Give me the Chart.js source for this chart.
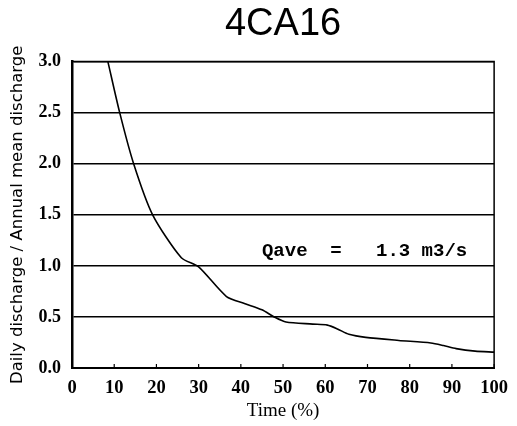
<!DOCTYPE html>
<html>
<head>
<meta charset="utf-8">
<script src="https://cdn.jsdelivr.net/npm/chart.js@4/dist/chart.umd.min.js"></script>
<style>
  html, body { margin: 0; padding: 0; background: #fff; }
  #wrap { width: 517px; height: 426px; }
</style>
</head>
<body>
<div id="wrap"><canvas id="c" width="517" height="426"></canvas></div>
<script>
// ---- data ----
const chartTitle = "4CA16";
const xAxisTitle = "Time (%)";
const yAxisTitle = "Daily discharge / Annual mean discharge";
const annotationText = "Qave  =   1.3 m3/s";
const annotationAt = [45, 1.14];            // [time %, ratio] where the note sits
const timePct = [8.5, 11.3, 14.6, 19.1, 25.9, 30.0, 36.6, 41.0, 45.0, 47.9, 50.7, 57.0, 60.5, 63.0, 65.6, 69.6, 77.4, 85.0, 88.0, 91.0, 95.5, 100];
const ratio   = [3.0, 2.5,  2.0,  1.5,  1.08, 0.99, 0.70, 0.63, 0.57, 0.50, 0.45, 0.43, 0.42, 0.38, 0.33, 0.30, 0.27, 0.245, 0.22, 0.19, 0.165, 0.155];
const xTicks = [0, 10, 20, 30, 40, 50, 60, 70, 80, 90, 100];
const yTicks = [0.0, 0.5, 1.0, 1.5, 2.0, 2.5, 3.0];

const points = timePct.map((t, i) => ({ x: t, y: ratio[i] }));

const frameAndNote = {
  id: 'frameAndNote',
  afterDatasetsDraw(chart) {
    const { ctx, chartArea: a, scales } = chart;
    ctx.save();
    ctx.strokeStyle = '#000';
    ctx.lineWidth = 1.5;
    ctx.beginPath();
    ctx.moveTo(a.left, a.top); ctx.lineTo(a.right, a.top); ctx.lineTo(a.right, a.bottom);
    ctx.stroke();
    ctx.lineWidth = 1.2;
    xTicks.forEach(v => {
      const px = scales.x.getPixelForValue(v);
      ctx.beginPath(); ctx.moveTo(px, a.bottom); ctx.lineTo(px, a.bottom - 4); ctx.stroke();
    });
    ctx.fillStyle = '#000';
    ctx.font = 'bold 19px "Liberation Mono", monospace';
    ctx.textBaseline = 'middle';
    ctx.textAlign = 'left';
    ctx.fillText(annotationText, scales.x.getPixelForValue(annotationAt[0]), scales.y.getPixelForValue(annotationAt[1]));
    ctx.restore();
  }
};

new Chart(document.getElementById('c'), {
  type: 'line',
  data: {
    datasets: [{
      data: points,
      borderColor: '#000',
      borderWidth: 1.6,
      pointRadius: 0,
      tension: 0.25,
      fill: false
    }]
  },
  options: {
    responsive: false,
    animation: false,
    layout: { padding: { left: 4, right: 21, top: 0, bottom: 0 } },
    plugins: {
      legend: { display: false },
      tooltip: { enabled: false },
      title: {
        display: true,
        text: chartTitle,
        fullSize: false,
        color: '#000',
        font: { family: '"Liberation Sans", Arial, sans-serif', size: 38, weight: 'normal' },
        padding: { top: 2, bottom: 14 }
      }
    },
    scales: {
      x: {
        type: 'linear',
        min: 0, max: 100,
        afterBuildTicks: s => { s.ticks = xTicks.map(v => ({ value: v })); },
        afterFit: s => { s.height = 58; },
        grid: { display: false, drawTicks: false },
        border: { display: true, color: '#000', width: 2 },
        ticks: {
          color: '#000', padding: 9,
          font: { family: '"Liberation Serif", "Times New Roman", serif', size: 18.5, weight: 'bold' }
        },
        title: {
          display: true, text: xAxisTitle, color: '#000', padding: { top: -1 },
          font: { family: '"Liberation Serif", "Times New Roman", serif', size: 19 }
        }
      },
      y: {
        min: 0, max: 3,
        afterBuildTicks: s => { s.ticks = yTicks.map(v => ({ value: v })); },
        afterFit: s => { s.width = 68; },
        grid: { display: true, color: '#000', lineWidth: 1.4, drawTicks: false },
        border: { display: true, color: '#000', width: 2.5 },
        ticks: {
          color: '#000', padding: 11,
          callback: v => Number(v).toFixed(1),
          font: { family: '"Liberation Serif", "Times New Roman", serif', size: 18, weight: 'bold' }
        },
        title: {
          display: true, text: yAxisTitle, color: '#000', padding: { bottom: 1 },
          font: { family: '"DejaVu Sans", sans-serif', size: 16.5 }
        }
      }
    }
  },
  plugins: [frameAndNote]
});
</script>
</body>
</html>
